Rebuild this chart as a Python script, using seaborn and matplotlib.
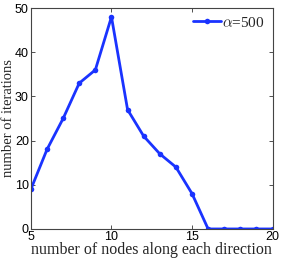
import pandas as pd
import matplotlib
matplotlib.use("Agg")
import matplotlib.pyplot as plt
import seaborn as sns

# values
nodes = [5, 6, 7, 8, 9, 10, 11, 12, 13, 14, 15, 16, 17, 18, 19, 20]
iterations = [9, 18, 25, 33, 36, 48, 27, 21, 17, 14, 8, 0, 0, 0, 0, 0]
x_ticks = [5, 10, 15, 20]
y_ticks = [0, 10, 20, 30, 40, 50]

df = pd.DataFrame({"nodes": nodes, "iterations": iterations})

sns.set_style("ticks")
plt.rcParams["font.family"] = ["Liberation Sans", "DejaVu Sans"]
plt.rcParams["mathtext.fontset"] = "cm"

fig = plt.figure(figsize=(2.81, 2.59), dpi=100)
ax = fig.add_axes([0.110, 0.116, 0.860, 0.853])

sns.lineplot(data=df, x="nodes", y="iterations", ax=ax, color="#1a33ff",
             linewidth=2, marker="o", markersize=4, markeredgewidth=0,
             label=r"$\alpha$=500")

ax.set_xlim(5, 20)
ax.set_ylim(0, 50)
ax.set_xticks(x_ticks)
ax.set_yticks(y_ticks)
ax.tick_params(direction="in", length=3, width=0.6, labelsize=9, pad=1.5,
               top=True, right=True, colors="#333333", labelcolor="black")
for s in ax.spines.values():
    s.set_linewidth(0.8)
    s.set_color("#444444")

ax.set_xlabel("number of nodes along each direction", family="Liberation Serif",
              fontsize=11.5, labelpad=-1)
ax.set_ylabel("number of iterations", family="Liberation Serif",
              fontsize=10.5, labelpad=0)

leg = ax.legend(loc="upper right", frameon=False,
                handlelength=1.8, handletextpad=0.1, borderaxespad=0.1,
                prop={"family": "Liberation Serif", "size": 11})

plt.savefig("out.png", dpi=100)
